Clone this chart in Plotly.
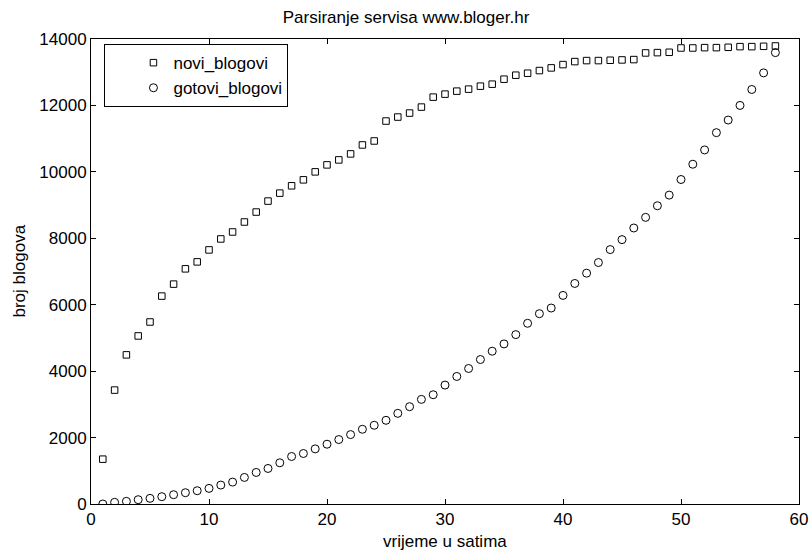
import plotly.graph_objects as go

# Hourly progress of the blog crawl (hours 1..58)
sati = list(range(1, 59))

novi_blogovi = [
    1350, 3430, 4490, 5060, 5480, 6260, 6620, 7080, 7290, 7650,
    7980, 8190, 8490, 8790, 9120, 9360, 9580, 9760, 10000, 10210,
    10360, 10540, 10810, 10930, 11530, 11650, 11770, 11950, 12250, 12340,
    12430, 12490, 12580, 12640, 12790, 12910, 12970, 13050, 13130, 13230,
    13320, 13350, 13350, 13360, 13370, 13380, 13580, 13590, 13600, 13730,
    13730, 13740, 13740, 13750, 13770, 13770, 13780, 13790,
]

gotovi_blogovi = [
    0, 50, 80, 130, 170, 220, 280, 340, 400, 470,
    570, 660, 800, 950, 1070, 1240, 1430, 1520, 1660, 1800,
    1940, 2090, 2250, 2370, 2520, 2730, 2930, 3150, 3290, 3580,
    3840, 4080, 4350, 4600, 4820, 5100, 5440, 5730, 5900, 6280,
    6640, 6950, 7270, 7660, 7960, 8310, 8630, 8980, 9300, 9770,
    10230, 10660, 11180, 11560, 12000, 12480, 12980, 13590,
]

x_ticks = [0, 10, 20, 30, 40, 50, 60]
y_ticks = [0, 2000, 4000, 6000, 8000, 10000, 12000, 14000]

FONT = dict(family="Liberation Sans, Arial, sans-serif", size=17, color="black")

fig = go.Figure()
fig.add_trace(go.Scatter(
    x=sati, y=novi_blogovi, mode="markers", name="novi_blogovi",
    marker=dict(symbol="square-open", size=6.5, color="black", line=dict(width=1, color="black")),
))
fig.add_trace(go.Scatter(
    x=sati, y=gotovi_blogovi, mode="markers", name="gotovi_blogovi",
    marker=dict(symbol="circle-open", size=8, color="black", line=dict(width=1, color="black")),
))

axis_common = dict(
    showline=True, linecolor="black", linewidth=1, mirror="allticks",
    ticks="inside", ticklen=5, tickwidth=1, tickcolor="black",
    showgrid=False, zeroline=False, tickfont=FONT, automargin=False,
)

fig.update_layout(
    width=812, height=550,
    margin=dict(l=91, r=13, t=39, b=46),
    paper_bgcolor="white", plot_bgcolor="white",
    font=FONT,
    title=dict(text="Parsiranje servisa www.bloger.hr", x=0.5, xanchor="center",
               y=1 - 17 / 550, yanchor="middle", yref="container", font=FONT),
    xaxis=dict(range=[0, 60], tickvals=x_ticks, ticktext=[str(v) for v in x_ticks],
               **axis_common),
    yaxis=dict(range=[0, 14000], tickvals=y_ticks, ticktext=[str(v) for v in y_ticks],
               **axis_common),
    annotations=[
        dict(text="vrijeme u satima", xref="paper", yref="paper", x=0.5, y=0,
             xanchor="center", yanchor="middle", yshift=-37, showarrow=False, font=FONT),
        dict(text="broj blogova", xref="paper", yref="paper", x=0, y=0.5,
             xanchor="center", yanchor="middle", xshift=-72, textangle=-90,
             showarrow=False, font=FONT),
    ],
    showlegend=True,
    legend=dict(x=0.019, y=0.989, xanchor="left", yanchor="top",
                bgcolor="white", bordercolor="black", borderwidth=1,
                font=FONT, indentation=28),
)

fig.write_html("out.html")
